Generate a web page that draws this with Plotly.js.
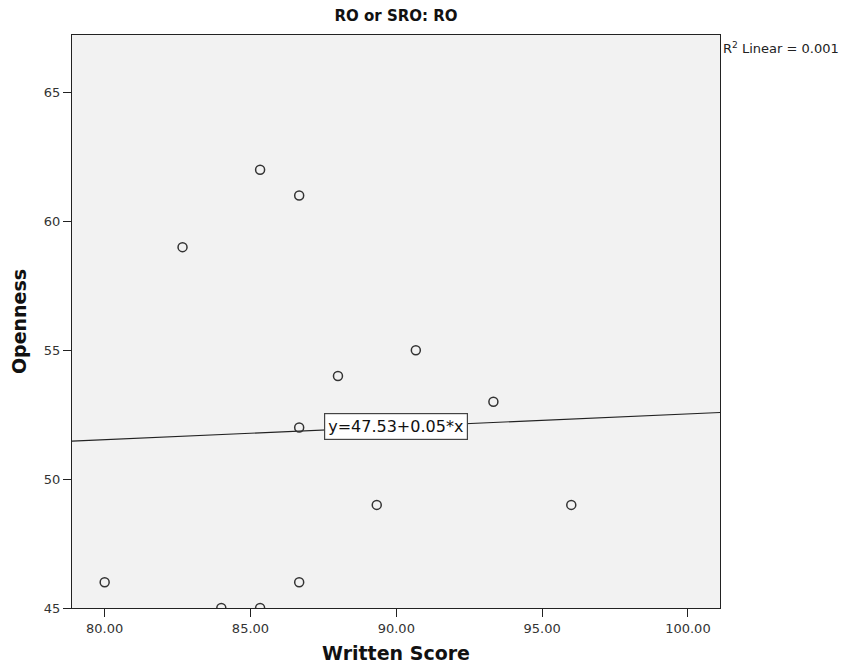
<!DOCTYPE html>
<html>
<head>
<meta charset="utf-8">
<script src="https://cdn.plot.ly/plotly-3.0.1.min.js"></script>
<style>html,body{margin:0;padding:0;background:#fff;}#chart{width:856px;height:668px;}</style>
</head>
<body>
<div id="chart"></div>
<script>
// Written score vs. openness, group RO
const writtenScore = [80.00, 82.67, 84.00, 85.33, 85.33, 86.67, 86.67, 86.67, 88.00, 89.33, 90.67, 93.33, 96.00];
const openness     = [46,    59,    45,    62,    45,    61,    52,    46,    54,    49,    55,    53,    49];

// Fitted linear model
const fitIntercept = 47.53;
const fitSlope = 0.05;
const rSquared = '0.001';

const xRange = [78.88, 101.1];
const yRange = [45, 67.23];
const xTicks = [80, 85, 90, 95, 100];
const yTicks = [45, 50, 55, 60, 65];

const fitX = xRange.slice();
const fitY = fitX.map(x => fitIntercept + fitSlope * x);
const labelX = 90;
const labelY = fitIntercept + fitSlope * labelX;

const font = 'DejaVu Sans, Open Sans, sans-serif';

const traces = [
  {
    x: fitX, y: fitY, type: 'scatter', mode: 'lines',
    line: {color: '#222', width: 1.2}, hoverinfo: 'skip', showlegend: false
  },
  {
    x: writtenScore, y: openness, type: 'scatter', mode: 'markers',
    marker: {symbol: 'circle', size: 9, color: 'rgba(255,255,255,0)',
             line: {color: '#333', width: 1.5}},
    showlegend: false
  }
];

const layout = {
  width: 856, height: 668,
  margin: {l: 72, r: 136, t: 35, b: 60},
  paper_bgcolor: '#ffffff',
  plot_bgcolor: '#f2f2f2',
  font: {family: font, size: 13, color: '#222'},
  title: {text: '<b>RO or SRO: RO</b>', font: {family: font, size: 15, color: '#111'},
          x: 0.5, xref: 'paper', xanchor: 'center', y: 0.985, yanchor: 'top'},
  xaxis: {
    range: xRange, tickvals: xTicks, ticktext: xTicks.map(v => v.toFixed(2)),
    showgrid: false, zeroline: false,
    showline: true, mirror: true, linecolor: '#222', linewidth: 1.2,
    ticks: 'outside', ticklen: 8, tickcolor: '#222', tickwidth: 1,
    tickfont: {size: 13, color: '#333'},
    title: {text: '<b>Written Score</b>', font: {size: 19, color: '#111'}, standoff: 12}
  },
  yaxis: {
    range: yRange, tickvals: yTicks, ticktext: yTicks.map(String),
    showgrid: false, zeroline: false,
    showline: true, mirror: true, linecolor: '#222', linewidth: 1.2,
    ticks: 'outside', ticklen: 8, tickcolor: '#222', tickwidth: 1,
    tickfont: {size: 13, color: '#333'},
    title: {text: '<b>Openness</b>', font: {size: 19, color: '#111'}, standoff: 12}
  },
  annotations: [
    {
      x: labelX, y: labelY, xref: 'x', yref: 'y',
      text: 'y=' + fitIntercept.toFixed(2) + '+' + fitSlope.toFixed(2) + '*x',
      showarrow: false, xanchor: 'center', yanchor: 'middle',
      bgcolor: '#ffffff', bordercolor: '#444', borderwidth: 1.2, borderpad: 3,
      font: {size: 16, color: '#111'}
    },
    {
      x: 1, y: 0.977, xref: 'paper', yref: 'paper',
      text: 'R<sup>2</sup> Linear = ' + rSquared,
      showarrow: false, xanchor: 'left', yanchor: 'middle', xshift: 1,
      font: {size: 13, color: '#222'}
    }
  ]
};

Plotly.newPlot('chart', traces, layout, {displayModeBar: false, staticPlot: true});
</script>
</body>
</html>
